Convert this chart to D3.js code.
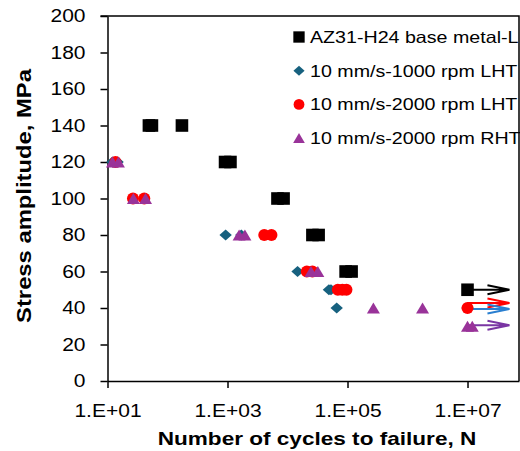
<!DOCTYPE html>
<html>
<head>
<meta charset="utf-8">
<script src="https://cdn.jsdelivr.net/npm/d3@7"></script>
<style>
  body { margin: 0; background: #fff; }
  svg { display: block; }
  text { font-family: "Liberation Sans", Arial, sans-serif; fill: #000; }
</style>
</head>
<body>
<svg width="520" height="451"></svg>
<script>
// axis ticks
var xTicks = [1e1, 1e3, 1e5, 1e7];
var yTicks = [0, 20, 40, 60, 80, 100, 120, 140, 160, 180, 200];

// series names, in legend order
var seriesNames = ["AZ31-H24 base metal-L", "10 mm/s-1000 rpm LHT",
                   "10 mm/s-2000 rpm LHT", "10 mm/s-2000 rpm RHT"];

// cycles to failure (N) and stress amplitude (MPa)
var baseN = [49, 55, 174, 910, 1120, 6800, 8600, 26000, 33000, 93000, 117000, 1e7];
var baseS = [140, 140, 140, 120, 120, 100, 100, 80, 80, 60, 60, 50];

var lht1000N = [12.1, 14.7, 930, 1700, 14700, 49000, 53000, 66000, 1e7];
var lht1000S = [120, 120, 80, 80, 60, 50, 50, 40, 40];

var lht2000N = [13.6, 26.6, 41, 4100, 5400, 21000, 26000, 69000, 82000, 96000, 1e7];
var lht2000S = [120, 100, 100, 80, 80, 60, 60, 50, 50, 50, 40];

var rht2000N = [12.1, 15.2, 27, 43, 1560, 1950, 24600, 32000, 270000, 1780000, 1e7, 1.2e7];
var rht2000S = [120, 120, 100, 100, 80, 80, 60, 60, 40, 40, 30, 30];

// run-outs (did not fail): series index, start N, stress, arrow end N
var runoutSeries = [0, 2, 1, 3];
var runoutN = [1e7, 1e7, 1e7, 1e7];
var runoutS = [50, 40, 40, 30];
var runoutEndN = 5e7;

var svg = d3.select("svg");
var pL = 107.5, pR = 519, pT = 16, pB = 381;

var x = d3.scaleLog().domain([10, Math.pow(10, 7.858)]).range([pL, pR]);
var y = d3.scaleLinear().domain([0, 200]).range([pB, pT]);

// stretch text horizontally (the original fonts are wider than Arial)
function stretch(sel, k) {
  sel.each(function () {
    var w = this.getComputedTextLength();
    this.setAttribute("textLength", w * k);
    this.setAttribute("lengthAdjust", "spacingAndGlyphs");
  });
}

// frame top/right
svg.append("path")
  .attr("d", "M" + (pL - 7) + "," + pT + "H" + pR + "V" + pB)
  .attr("fill", "none").attr("stroke", "#000").attr("stroke-width", 1.5);

var gx = svg.append("g")
  .attr("transform", "translate(0," + pB + ")")
  .call(d3.axisBottom(x).tickValues(xTicks).tickSize(7).tickSizeOuter(0).tickPadding(17)
    .tickFormat(function (d) { return "1.E+" + String(Math.round(Math.log10(d))).padStart(2, "0"); }));
var gy = svg.append("g")
  .attr("transform", "translate(" + pL + ",0)")
  .call(d3.axisLeft(y).tickValues(yTicks).tickSize(7).tickSizeOuter(0).tickPadding(15));

[gx, gy].forEach(function (g) {
  g.select(".domain").attr("stroke", "#000").attr("stroke-width", 1.5);
  g.selectAll(".tick line").attr("stroke", "#000").attr("stroke-width", 1.5);
  g.selectAll(".tick text").attr("font-size", 17.5).attr("font-family", null).attr("fill", "#000");
});
stretch(gy.selectAll(".tick text"), 1.2);
stretch(gx.selectAll(".tick text"), 1.2);

// axis titles
var xt = svg.append("text")
  .attr("x", 317).attr("y", 445)
  .attr("text-anchor", "middle").attr("font-weight", "bold").attr("font-size", 18.5)
  .text("Number of cycles to failure, N");
stretch(xt, 1.22);

var yt = svg.append("text")
  .attr("transform", "translate(31,196) rotate(-90)")
  .attr("text-anchor", "middle").attr("font-weight", "bold").attr("font-size", 19.5)
  .text("Stress amplitude, MPa");
stretch(yt, 1.22);

// marker shapes
var shapes = [
  function (g) { return g.append("path").attr("d", "M-6.3,-6.3h12.6v12.6h-12.6Z"); },
  function (g) { return g.append("path").attr("d", "M0,-5.6L6.2,0L0,5.6L-6.2,0Z"); },
  function (g) { return g.append("circle").attr("r", 6); },
  function (g) { return g.append("path").attr("d", "M0,-5.6L6.5,5.4L-6.5,5.4Z"); }
];
var colors = ["#000000", "#17617f", "#ff0000", "#993399"];
var arrowColors = ["#000000", "#2a7fd0", "#ff0000", "#7a35a3"];
var arrowDy = [0, 1, -5, -1];

var allN = [baseN, lht1000N, lht2000N, rht2000N];
var allS = [baseS, lht1000S, lht2000S, rht2000S];

// run-out arrows (drawn under markers)
var arrows = svg.append("g");
runoutSeries.forEach(function (s, i) {
  var x0 = x(runoutN[i]), x1 = x(runoutEndN), yy = y(runoutS[i]) + arrowDy[s];
  arrows.append("path")
    .attr("d", "M" + x0 + "," + yy + "H" + x1 + "M" + (x1 - 22) + "," + (yy - 4.5) + "L" + x1 + "," + yy + "L" + (x1 - 22) + "," + (yy + 4.5))
    .attr("fill", "none").attr("stroke", arrowColors[s]).attr("stroke-width", 2);
});

// points
allN.forEach(function (ns, s) {
  var g = svg.append("g").attr("fill", colors[s]);
  ns.forEach(function (n, i) {
    shapes[s](g.append("g").attr("transform", "translate(" + x(n) + "," + y(allS[s][i]) + ")"));
  });
});

// legend
var legend = svg.append("g").selectAll("g")
  .data(seriesNames).enter().append("g")
  .attr("transform", function (d, i) { return "translate(299," + (37 + i * 33.7) + ")"; });
legend.each(function (d, i) {
  var g = d3.select(this).append("g").attr("fill", colors[i])
    .attr("transform", "scale(0.9)");
  shapes[i](g);
});
var lt = legend.append("text")
  .attr("x", 11).attr("y", 6)
  .attr("font-size", 16.5)
  .text(function (d) { return d; });
stretch(lt, 1.19);
</script>
</body>
</html>
